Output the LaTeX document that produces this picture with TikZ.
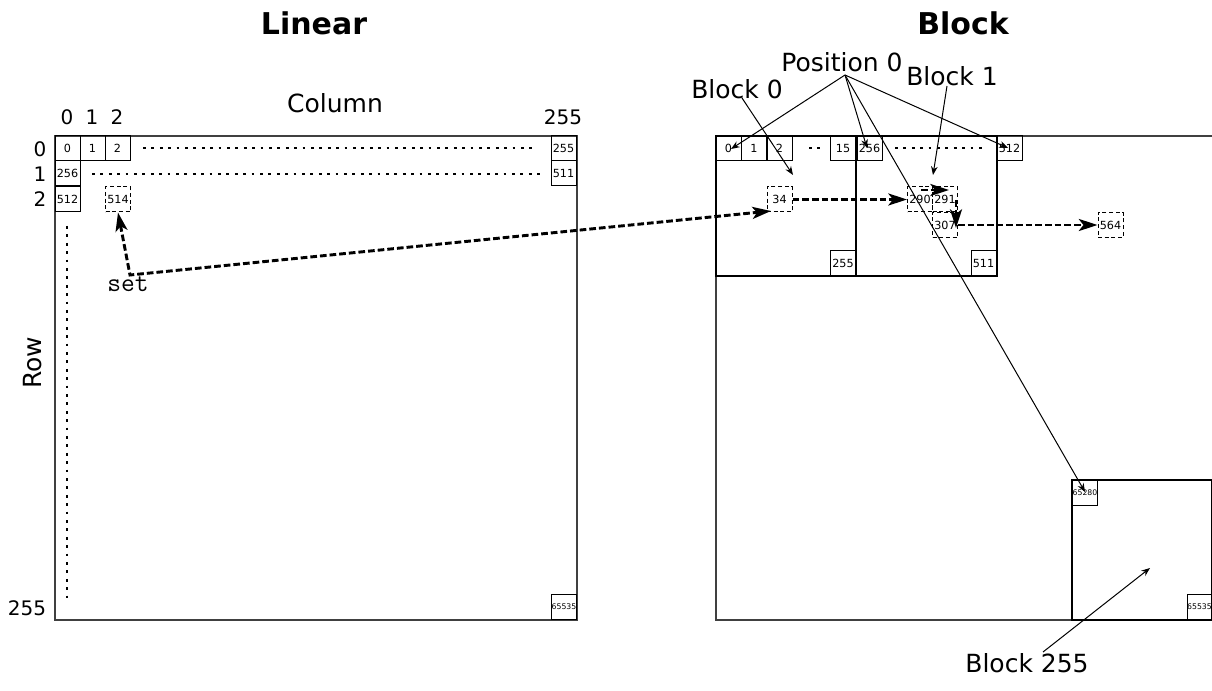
\documentclass[tikz,border=0pt]{standalone}
\usepackage{fontspec}
\setmainfont{DejaVu Sans}
\usetikzlibrary{arrows.meta}
\begin{document}
\begin{tikzpicture}[x=0.75pt,y=-0.75pt,
  cell/.style={draw, line width=0.75pt, minimum width=18.75pt, minimum height=18.75pt,
    inner sep=0pt, font=\fontsize{8.4}{9}\selectfont},
  tinycell/.style={cell, font=\fontsize{5.8}{7}\selectfont},
  dcell/.style={cell, dash pattern=on 3pt off 2pt},
  dotline/.style={line width=2.1pt, dash pattern=on 2.1pt off 4.2pt},
  frame/.style={line width=1pt, draw=black!75},
  blockbox/.style={line width=2.2pt},
  jump/.style={line width=2.2pt, dash pattern=on 5pt off 2.25pt,
    -{Stealth[length=14pt,width=9pt,inset=3.5pt]}},
  jumpboth/.style={line width=2.2pt, dash pattern=on 5pt off 2.25pt,
    {Stealth[length=14pt,width=9pt,inset=3.5pt]}-{Stealth[length=14pt,width=9pt,inset=3.5pt]}},
  pointer/.style={line width=0.75pt, -{Stealth[length=6.5pt,width=5pt]}},
  title/.style={font=\bfseries\fontsize{22.5}{27}\selectfont},
  label/.style={font=\fontsize{18.75}{22}\selectfont},
  index/.style={font=\fontsize{15}{18}\selectfont},
]
\useasboundingbox (0,0) rectangle (1212,691);

% ---------- titles ----------
\node[title] (tlin) at (314,23) {Linear};
\node[title] (tblk) at (963,23) {Block};

% ---------- linear layout ----------
\draw[frame] (55,136) rectangle (577,620);

\node[label] (colname) at (335,103) {Column};
\node[index] (col0) at (67,117) {0};
\node[index] (col1) at (92,117) {1};
\node[index] (col2) at (117,117) {2};
\node[index] (col255) at (563,117) {255};
\node[index] (row0) at (40,149) {0};
\node[index] (row1) at (40,174) {1};
\node[index] (row2) at (40,199) {2};
\node[index] (row255) at (27,608) {255};
\node[label, rotate=90] (rowname) at (33,363) {Row};

\node[cell] (l0) at (67.5,148.5) {0};
\node[cell] (l1) at (92.5,148.5) {1};
\node[cell] (l2) at (117.5,148.5) {2};
\node[cell] (l255) at (563.5,148.5) {255};
\node[cell] (l256) at (67.5,173.5) {256};
\node[cell] (l511) at (563.5,173.5) {511};
\node[cell] (l512) at (67.5,199) {512};
\node[dcell] (l514) at (118,199.5) {514};
\node[tinycell] (l65535) at (564,607) {65535};

\draw[dotline] (143,148) -- (537,148);
\draw[dotline] (92,174) -- (540,174);
\draw[dotline] (67,226) -- (67,602);

\node[font=\ttfamily\fontsize{20}{24}\selectfont] (setlbl) at (128,284) {set};
\coordinate (bend) at (130,275);

% ---------- block layout ----------
\draw[frame] (716,136) rectangle (1240,620);
\draw[blockbox] (716,136) rectangle (856,276);
\draw[blockbox] (856,136) rectangle (997,276);
\draw[blockbox] (1072,480) rectangle (1212,620);

\node[cell] (b0) at (728.5,148.5) {0};
\node[cell] (b1) at (754,148.5) {1};
\node[cell] (b2) at (779.5,148.5) {2};
\node[cell] (b15) at (843,148.5) {15};
\node[cell] (b255) at (843,263) {255};
\node[cell] (b256) at (869.5,148.5) {256};
\node[cell] (b511) at (983.5,263) {511};
\node[cell] (b512) at (1009.5,148.5) {512};
\node[tinycell] (b65280) at (1085,492.5) {65280};
\node[tinycell] (b65535) at (1199.5,607) {65535};

\draw[dotline] (809,148) -- (820,148);
\draw[dotline] (895,148) -- (982,148);

\node[dcell] (d34) at (779.5,199.5) {34};
\node[dcell] (d290) at (920,199.5) {290};
\node[dcell] (d291) at (945,199.5) {291};
\node[dcell] (d307) at (945,225) {307};
\node[dcell] (d564) at (1110.5,225) {564};

% ---------- labels and pointers ----------
\node[label] (pos0) at (842,62) {Position 0};
\node[label] (blk0) at (737,89) {Block 0};
\node[label] (blk1) at (952,76) {Block 1};
\node[label] (blk255) at (1027,663) {Block 255};

\coordinate (pos0src) at (845,75);
\coordinate (blk0src) at (742,98);
\coordinate (blk1src) at (947,86);
\coordinate (blk255src) at (1043,652);
\coordinate (blk0dst) at (793,175);
\coordinate (blk1dst) at (933,175);
\coordinate (blk255dst) at (1150,568);

\draw[pointer] (pos0src) -- (731,149);
\draw[pointer] (pos0src) -- (867,148);
\draw[pointer] (pos0src) -- (1008,148);
\draw[pointer] (pos0src) -- (1085,492);
\draw[pointer] (blk0src) -- (blk0dst);
\draw[pointer] (blk1src) -- (blk1dst);
\draw[pointer] (blk255src) -- (blk255dst);

% ---------- access path ----------
\draw[jumpboth] (l514.south) -- (bend) -- (771,211);
\draw[jump] (d34.east) -- (d290.west);
\draw[jump] (921,190) -- (949,190);
\draw[jump] (956,200) -- (956,228);
\draw[jump] (d307.east) -- (d564.west);
\end{tikzpicture}
\end{document}
